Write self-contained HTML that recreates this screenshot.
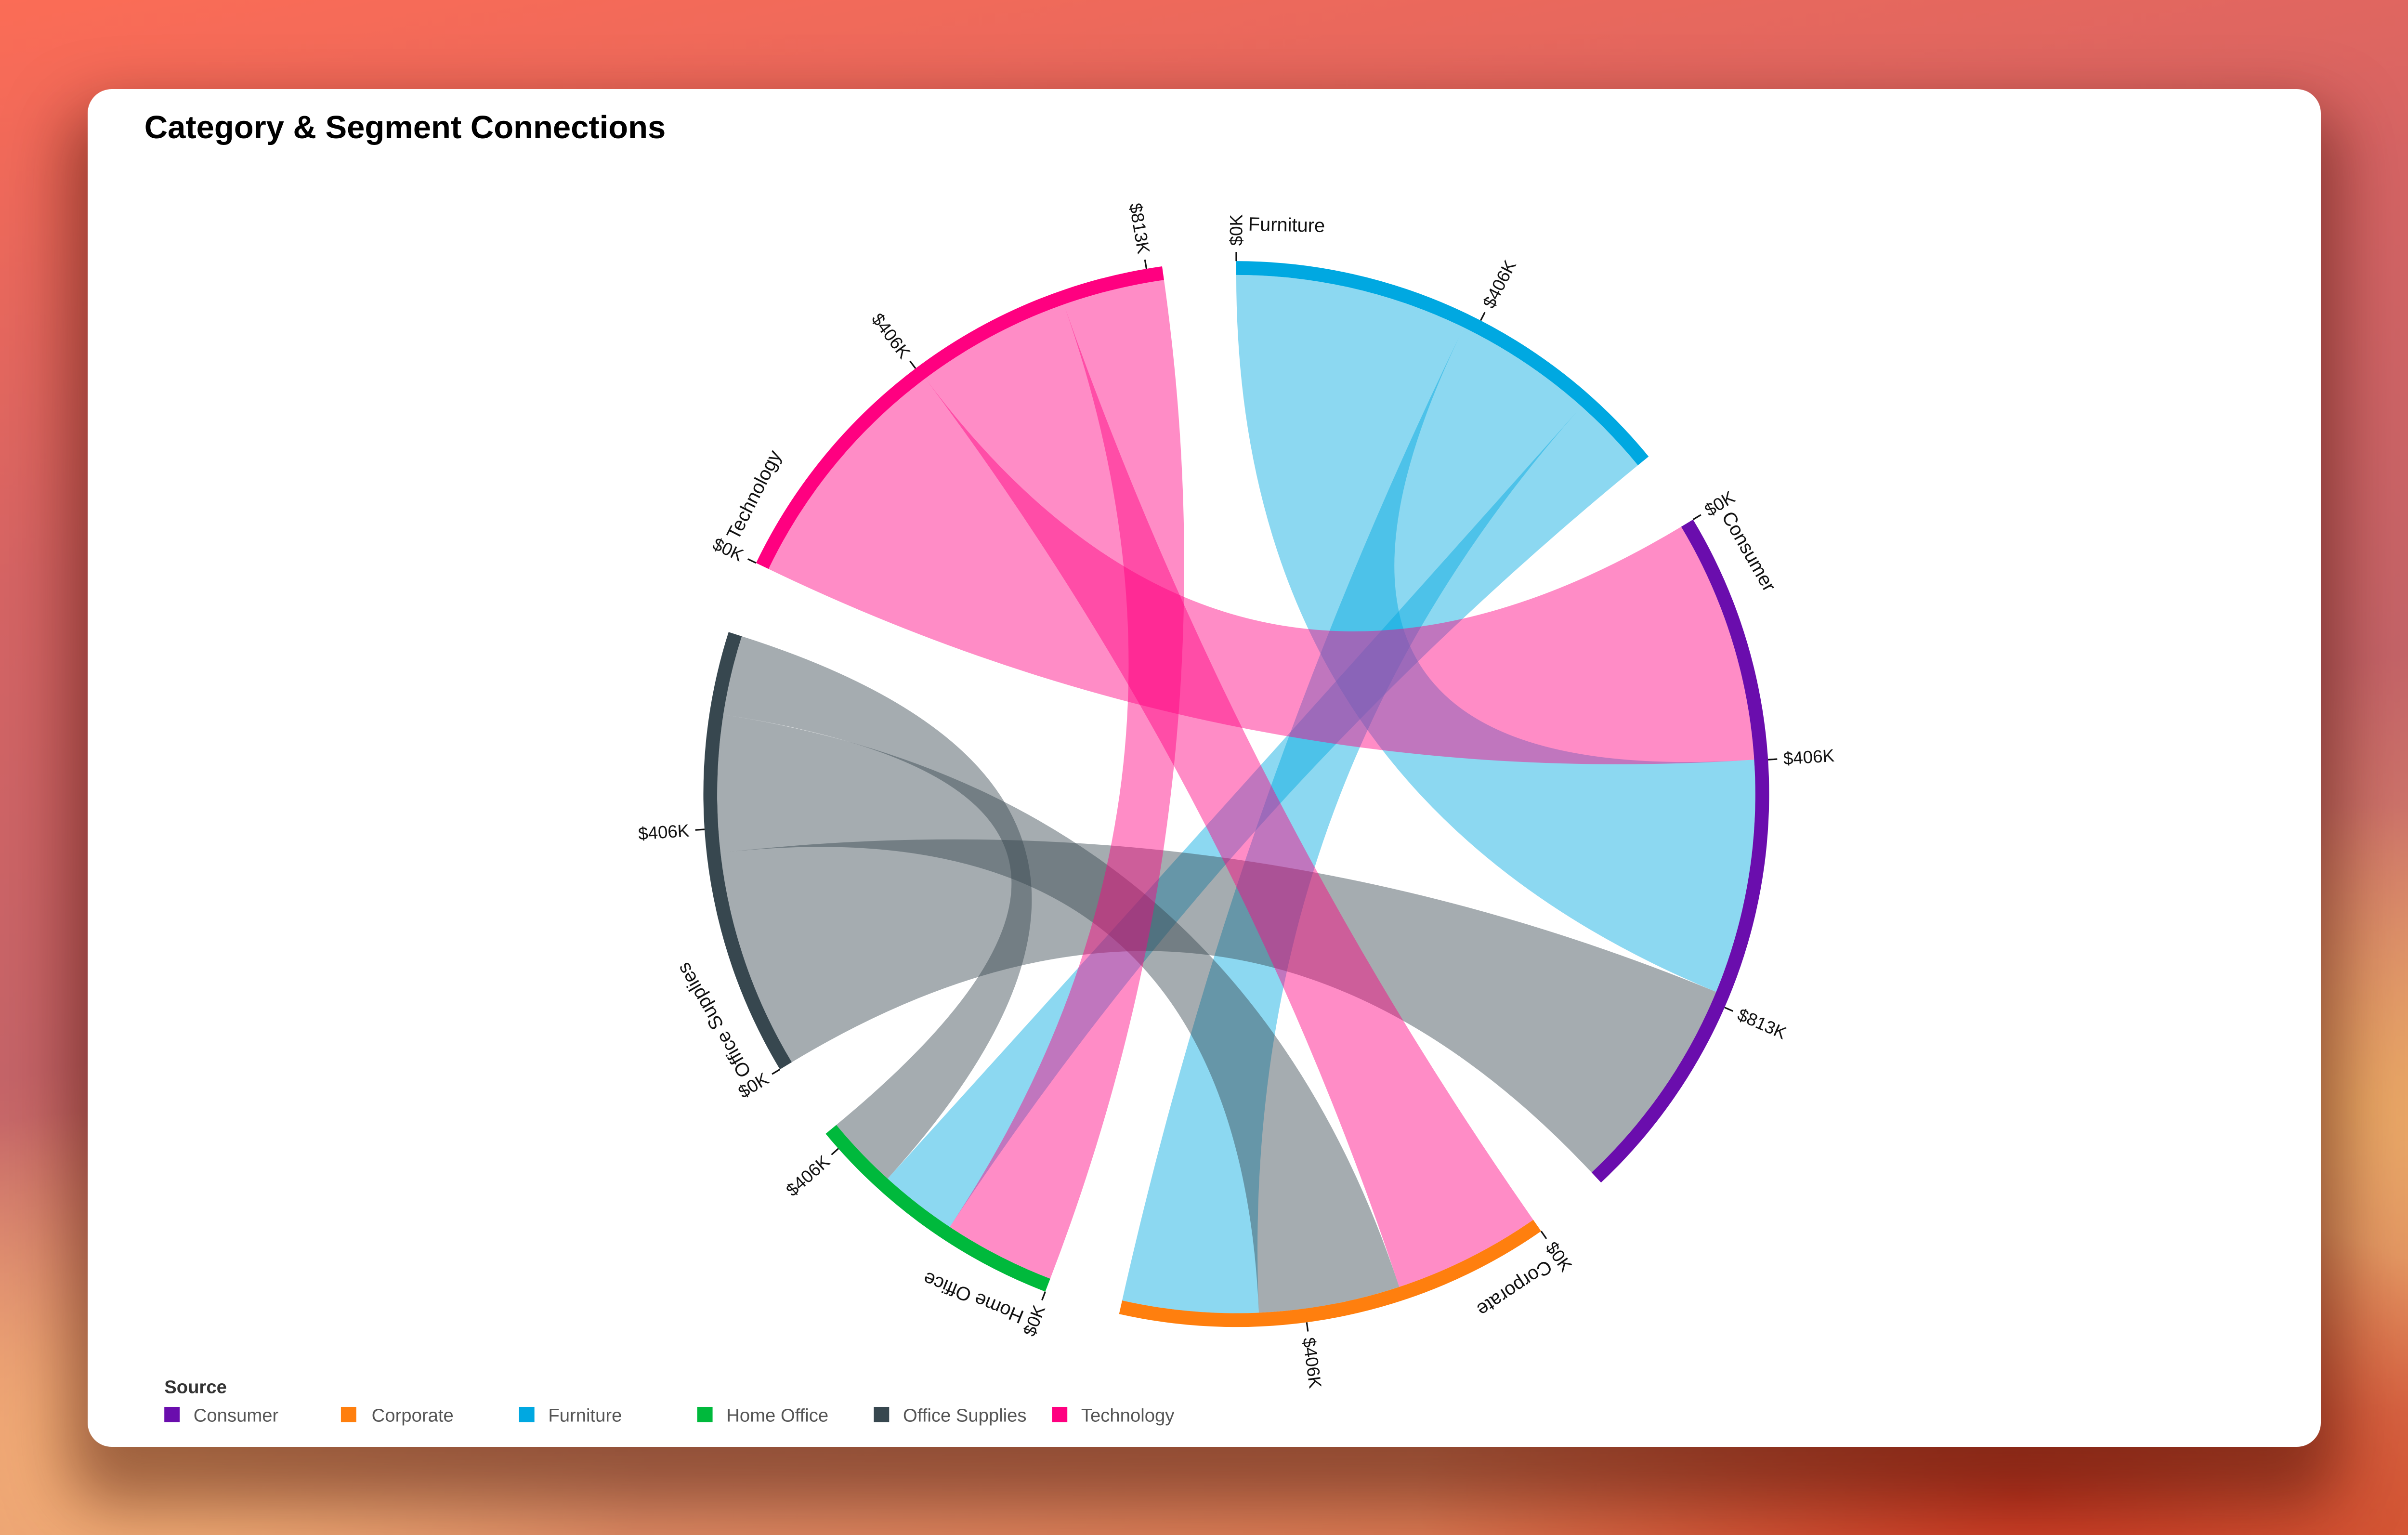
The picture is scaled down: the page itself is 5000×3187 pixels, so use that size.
<!DOCTYPE html>
<html><head><meta charset="utf-8"><style>
html,body{margin:0;padding:0;}
body{width:5000px;height:3187px;position:relative;overflow:hidden;
background:
radial-gradient(ellipse 1800px 900px at 4200px 3100px, rgba(200,50,30,0.9), rgba(200,50,30,0) 70%),
radial-gradient(ellipse 1500px 1000px at 300px 3000px, rgba(248,180,120,1), rgba(248,180,120,0) 70%),
radial-gradient(ellipse 1200px 900px at 4900px 2300px, rgba(235,170,100,0.9), rgba(235,170,100,0) 70%),
linear-gradient(170deg,#fb6c56 0%,#d56464 30%,#c56468 55%,#e0946e 80%,#d9663e 100%);}
.card{position:absolute;left:182px;top:185px;width:4637px;height:2819px;background:#fff;border-radius:50px;
box-shadow:0 80px 220px 40px rgba(70,15,5,0.5);}
svg{position:absolute;left:0;top:0;}
</style></head><body>
<div class="card"></div>
<svg width="5000" height="3187" viewBox="0 0 1568 999.4" xmlns="http://www.w3.org/2000/svg" font-family="'Liberation Sans', sans-serif">
<text x="94" y="90" font-size="21" font-weight="bold" fill="#000">Category &amp; Segment Connections</text>
<g id="chart" transform="translate(805,517)">
<g id="ribbons"></g>
<g id="arcs"></g>
<g id="ticks" font-size="11.5" fill="#111"></g>
<g font-size="12.5" fill="#111">
<g transform="rotate(1.2)"><text x="0" y="-367">Furniture</text></g>
<g transform="rotate(60.2)"><text x="0" y="-364">Consumer</text></g>
<g transform="rotate(146.3)"><text x="0" y="-364">Corporate</text></g>
<g transform="rotate(202.2)"><text x="0" y="-364">Home Office</text></g>
<g transform="rotate(240.1)"><text x="0" y="-364">Office Supplies</text></g>
<g transform="rotate(296.9)"><text x="0" y="-364">Technology</text></g>
</g>
</g>
<text x="107" y="907" font-size="12" font-weight="bold" fill="#333">Source</text>
<g font-size="12" fill="#555">
<rect x="107" y="916" width="10" height="10" fill="#6a0dad"/><text x="126" y="925.5">Consumer</text>
<rect x="222" y="916" width="10" height="10" fill="#ff7f0e"/><text x="242" y="925.5">Corporate</text>
<rect x="338" y="916" width="10" height="10" fill="#00a8e1"/><text x="357" y="925.5">Furniture</text>
<rect x="454" y="916" width="10" height="10" fill="#00b93c"/><text x="473" y="925.5">Home Office</text>
<rect x="569" y="916" width="10" height="10" fill="#37474f"/><text x="588" y="925.5">Office Supplies</text>
<rect x="685" y="916" width="10" height="10" fill="#ff0080"/><text x="704" y="925.5">Technology</text>
</g>
<g id="ticklabels" font-size="11.5" fill="#111" transform="translate(805,517)">
<g transform="rotate(-90) translate(357,0)"><text dominant-baseline="central">$0K</text></g>
<g transform="rotate(-62.7) translate(357,0)"><text dominant-baseline="central">$406K</text></g>
<g transform="rotate(-31) translate(357,0)"><text dominant-baseline="central">$0K</text></g>
<g transform="rotate(-3.7) translate(357,0)"><text dominant-baseline="central">$406K</text></g>
<g transform="rotate(23.6) translate(357,0)"><text dominant-baseline="central">$813K</text></g>
<g transform="rotate(55.1) translate(357,0)"><text dominant-baseline="central">$0K</text></g>
<g transform="rotate(82.4) translate(357,0)"><text dominant-baseline="central">$406K</text></g>
<g transform="rotate(111) translate(357,0) rotate(180)"><text dominant-baseline="central" text-anchor="end">$0K</text></g>
<g transform="rotate(138.3) translate(357,0) rotate(180)"><text dominant-baseline="central" text-anchor="end">$406K</text></g>
<g transform="rotate(148.9) translate(357,0) rotate(180)"><text dominant-baseline="central" text-anchor="end">$0K</text></g>
<g transform="rotate(176.2) translate(357,0) rotate(180)"><text dominant-baseline="central" text-anchor="end">$406K</text></g>
<g transform="rotate(205.7) translate(357,0) rotate(180)"><text dominant-baseline="central" text-anchor="end">$0K</text></g>
<g transform="rotate(233) translate(357,0) rotate(180)"><text dominant-baseline="central" text-anchor="end">$406K</text></g>
<g transform="rotate(260.3) translate(357,0) rotate(180)"><text dominant-baseline="central" text-anchor="end">$813K</text></g>
</g>
</svg>
<script>
(function(){
var NS="http://www.w3.org/2000/svg",R=338,RO=347;
function pt(a,r){var t=(a-90)*Math.PI/180;return [r*Math.cos(t),r*Math.sin(t)];}
function f(p){return p[0].toFixed(2)+","+p[1].toFixed(2);}
function arcTo(a0,a1,r){var p=pt(a1,r);var large=(a1-a0)>180?1:0;return "A"+r+","+r+" 0 "+large+" 1 "+f(p);}
var col={F:"#00a8e1",C:"#6a0dad",P:"#ff7f0e",H:"#00b93c",O:"#37474f",T:"#ff0080"};
var groups=[["F",0,50.7],["C",59,136.8],["P",145.1,192.7],["H",201,230.4],["O",238.9,287.7],["T",295.7,352]];
var arcs=document.getElementById("arcs"),ticks=document.getElementById("ticks"),rib=document.getElementById("ribbons");
var ribs=[["F",0,26,86.2,112.4],["F",26,41.7,177.5,192.7],["F",41.7,50.7,213.5,222.2],
["O",238.9,263.5,112.4,136.8],["O",263.5,278.8,161.7,177.5],["O",278.8,287.7,222.2,230.4],
["T",295.7,323.2,59,86.2],["T",323.2,340.6,145.1,161.7],["T",340.6,352,201,213.5]];
ribs.forEach(function(r){
 var d="M"+f(pt(r[1],R))+arcTo(r[1],r[2],R)+"Q0,0 "+f(pt(r[3],R))+arcTo(r[3],r[4],R)+"Q0,0 "+f(pt(r[1],R))+"Z";
 var p=document.createElementNS(NS,"path");p.setAttribute("d",d);p.setAttribute("fill",col[r[0]]);p.setAttribute("fill-opacity","0.45");rib.appendChild(p);
});
groups.forEach(function(g){
 var d="M"+f(pt(g[1],R))+arcTo(g[1],g[2],R)+"L"+f(pt(g[2],RO))+"A"+RO+","+RO+" 0 0 0 "+f(pt(g[1],RO))+"Z";
 var p=document.createElementNS(NS,"path");p.setAttribute("d",d);p.setAttribute("fill",col[g[0]]);arcs.appendChild(p);
 for(var a=g[1];a<=g[2]+0.01;a+=27.3){
  var l=document.createElementNS(NS,"line");var p1=pt(a,RO),p2=pt(a,RO+6);
  l.setAttribute("x1",p1[0]);l.setAttribute("y1",p1[1]);l.setAttribute("x2",p2[0]);l.setAttribute("y2",p2[1]);
  l.setAttribute("stroke","#111");l.setAttribute("stroke-width","1");ticks.appendChild(l);
 }
});
})();
</script>
</body></html>
